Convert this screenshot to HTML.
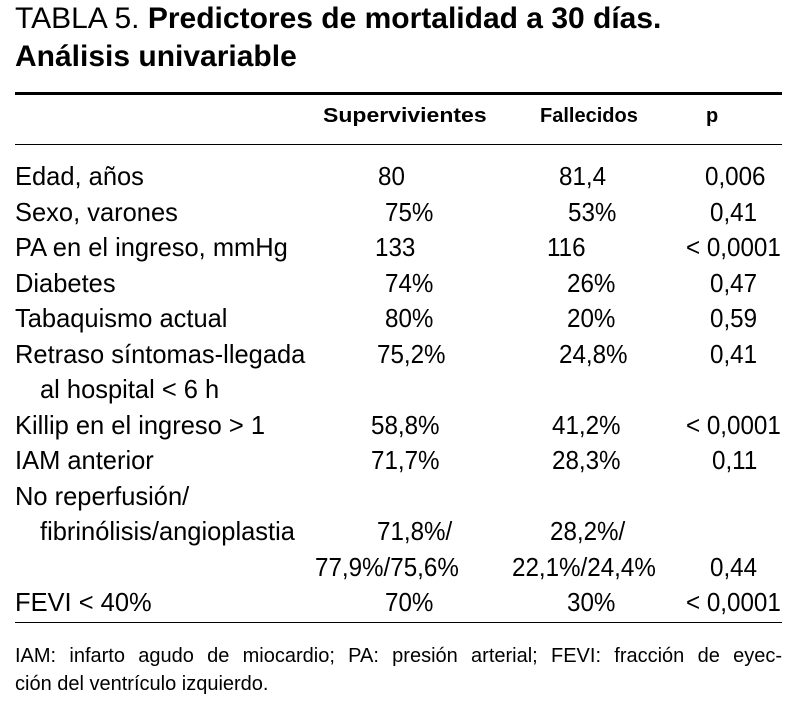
<!DOCTYPE html>
<html><head><meta charset="utf-8"><style>
html,body{margin:0;padding:0;background:#fff;}
body{width:807px;height:708px;position:relative;overflow:hidden;color:#000;font-family:"Liberation Sans",sans-serif;}
.t{position:absolute;white-space:nowrap;font-size:26px;line-height:26px;transform:scaleX(0.93);transform-origin:0 0;}
.t.lab{transform:scaleX(0.98);}
.title{font-size:30px;line-height:32px;position:absolute;left:15px;white-space:nowrap;}
.h{position:absolute;font-weight:bold;font-size:20px;line-height:20px;white-space:nowrap;}
.rule{position:absolute;left:15px;width:767px;background:#000;}
.fn{position:absolute;left:15px;font-size:20px;line-height:22px;white-space:nowrap;}
</style></head><body>
<div class="title" style="top:3px">TABLA 5. <b>Predictores de mortalidad a 30 días.</b></div>
<div class="title" style="top:41px"><b>Análisis univariable</b></div>
<div class="rule" style="top:92px;height:3px"></div>
<div class="h" style="left:323px;top:106px;transform:scaleX(1.15);transform-origin:0 0">Supervivientes</div>
<div class="h" style="left:540px;top:106px">Fallecidos</div>
<div class="h" style="left:706px;top:106px">p</div>
<div class="rule" style="top:144px;height:1px"></div>
<div id="rows"></div>
<div class="rule" style="top:622px;height:1px"></div>
<div class="fn" style="top:645px;width:767px;text-align:justify;text-align-last:justify">IAM: infarto agudo de miocardio; PA: presión arterial; FEVI: fracción de eyec-</div>
<div class="fn" style="top:673px">ción del ventrículo izquierdo.</div>
<script>
const labels=[["Edad, años",0],["Sexo, varones",0],["PA en el ingreso, mmHg",0],["Diabetes",0],["Tabaquismo actual",0],["Retraso síntomas-llegada",0],["al hospital < 6 h",1],["Killip en el ingreso > 1",0],["IAM anterior",0],["No reperfusión/",0],["fibrinólisis/angioplastia",1],["",0],["FEVI < 40%",0]];
const surv=[["80",378],["75%",385],["133",375],["74%",385],["80%",385],["75,2%",377],["",0],["58,8%",371],["71,7%",371],["",0],["71,8%/",377],["77,9%/75,6%",315],["70%",385]];
const dead=[["81,4",559],["53%",568],["116",547],["26%",567],["20%",567],["24,8%",559],["",0],["41,2%",552],["28,3%",552],["",0],["28,2%/",550],["22,1%/24,4%",512],["30%",567]];
const pv=[["0,006",705],["0,41",710],["< 0,0001",686],["0,47",710],["0,59",710],["0,41",710],["",0],["< 0,0001",686],["0,11",712],["",0],["",0],["0,44",710],["< 0,0001",686]];
const root=document.getElementById('rows');
function add(txt,left,top,name,cls){
  if(!txt)return;
  const d=document.createElement('div');
  d.className='t'+(cls?' '+cls:'');d.textContent=txt;
  d.style.left=left+'px';d.style.top=top+'px';
  
  
  root.appendChild(d);
}
labels.forEach((l,i)=>{
  const top=163+i*35.5;
  add(l[0],l[1]?40:15,top,'row-label','lab');
  add(surv[i][0],surv[i][1],top,'survivors-value');
  add(dead[i][0],dead[i][1],top,'deceased-value');
  add(pv[i][0],pv[i][1],top,'p-value');
});
</script>
</body></html>
